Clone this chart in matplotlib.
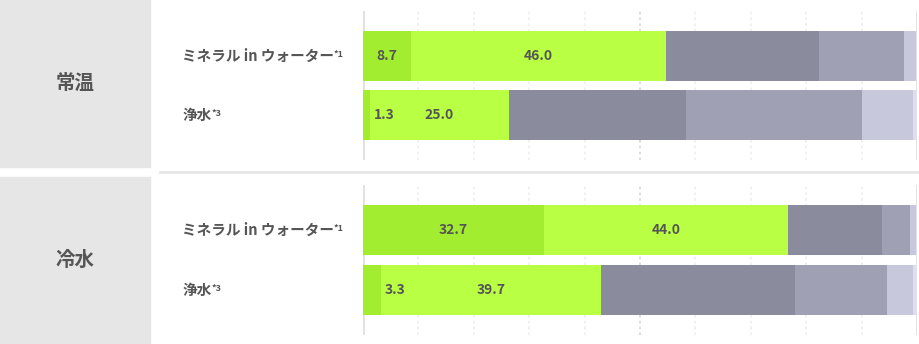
import matplotlib.pyplot as plt
from matplotlib.patches import Rectangle
from matplotlib.lines import Line2D
from matplotlib.transforms import blended_transform_factory

plt.rcParams['font.family'] = ['Noto Sans CJK JP', 'DejaVu Sans']

# data
panels = ['常温', '冷水']
categories = ['ミネラル in ウォーター', '浄水']
notes = ['*1', '*3']
# green segments are labelled, grey segments are not
seg1 = [[8.7, 1.3], [32.7, 3.3]]
seg2 = [[46.0, 25.0], [44.0, 39.7]]
seg3 = [[27.6, 32.0], [16.9, 34.9]]
seg4 = [[15.3, 31.8], [5.1, 16.6]]
seg5 = [[2.2, 9.2], [1.2, 4.7]]
seg6 = [[0.2, 0.7], [0.1, 0.8]]

colors = ['#a3ed30', '#b9ff44', '#8b8b9e', '#a0a0b4', '#c8c8dc', '#dedeec']
text_col = '#555555'

W, H = 920, 344
fig = plt.figure(figsize=(W / 100, H / 100), dpi=100)

# left grey boxes and divider
boxes = [(0, 166.5), (177, 344)]
for (top, bot), name in zip(boxes, panels):
    fig.patches.append(Rectangle((0, 1 - bot / H), 150 / W, (bot - top) / H,
                                 transform=fig.transFigure, color='#e6e6e6', zorder=0))
    fig.text(75 / W, 1 - (top + bot) / 2 / H, name, ha='center', va='center',
             fontsize=14, fontweight='bold', color=text_col)
fig.add_artist(Line2D([160 / W, 1], [1 - 171.5 / H] * 2, transform=fig.transFigure,
                      color='#e6e6e6', lw=2))

axes_px = [(11, 160), (185, 335)]
x0, x1 = 363, 917
for p, (top, bot) in enumerate(axes_px):
    ax = fig.add_axes([x0 / W, 1 - bot / H, (x1 - x0) / W, (bot - top) / H])
    ax.set_xlim(0, 100)
    ax.set_ylim(1.75, -0.75)
    for s in ax.spines.values():
        s.set_visible(False)
    ax.set_xticks([])
    ax.set_yticks([])
    for g in range(10, 100, 10):
        ax.axvline(g, color='#d6d6d6' if g == 50 else '#ededed', lw=1.2,
                   ls=(0, (1.5, 2)), zorder=0)
    ax.axvline(0, color='#e0e0e0', lw=2, zorder=0)
    ax.axvline(100, color='#e0e0e0', lw=2, zorder=0)

    segs = [seg1[p], seg2[p], seg3[p], seg4[p], seg5[p], seg6[p]]
    ypos = range(len(categories))
    left = [0.0] * len(categories)
    for k, vals in enumerate(segs):
        ax.barh(ypos, vals, left=left, height=0.84, color=colors[k], zorder=2)
        if k < 2:
            for i, v in enumerate(vals):
                if v < 5:
                    ax.text(left[i] + v + 0.7, i, f'{v:.1f}', ha='left', va='center',
                            fontsize=10, fontweight='bold', color=text_col, zorder=3)
                else:
                    ax.text(left[i] + v / 2, i, f'{v:.1f}', ha='center', va='center',
                            fontsize=10, fontweight='bold', color=text_col, zorder=3)
        left = [a + b for a, b in zip(left, vals)]

    tr = blended_transform_factory(fig.transFigure, ax.transData)
    for i, (cat, note) in enumerate(zip(categories, notes)):
        t = ax.text(182 / W, i, cat, transform=tr, ha='left', va='center',
                    fontsize=10.5, fontweight='bold', color=text_col)
        ax.annotate(note, xy=(1, 1), xycoords=t, xytext=(0, -1.5),
                    textcoords='offset points', ha='left', va='top',
                    fontsize=6.5, fontweight='bold', color=text_col)

fig.savefig('out.png', dpi=100)
